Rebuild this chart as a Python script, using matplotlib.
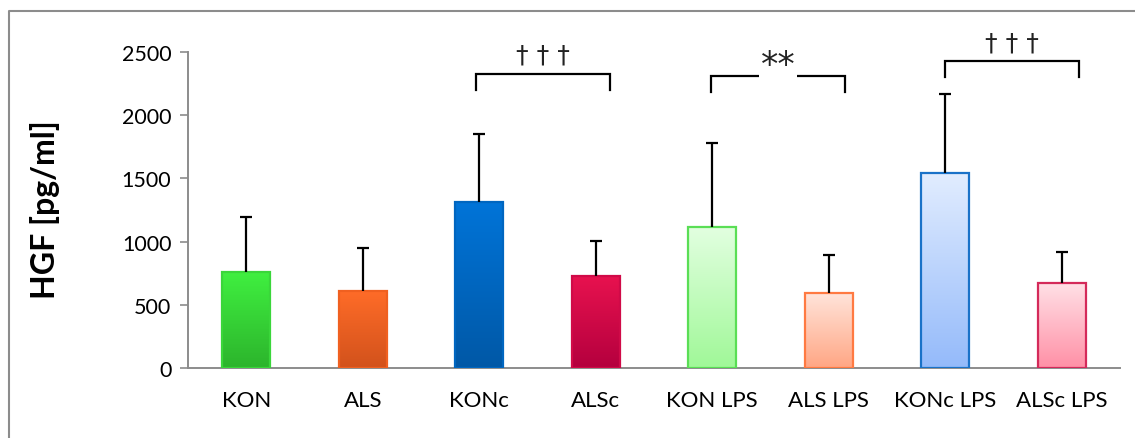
import numpy as np
import matplotlib
matplotlib.use('Agg')
import matplotlib.pyplot as plt
from matplotlib.colors import LinearSegmentedColormap
from matplotlib.lines import Line2D

plt.rcParams['font.family'] = ['Lato', 'DejaVu Sans']

groups = ['KON', 'ALS', 'KONc', 'ALSc', 'KON LPS', 'ALS LPS', 'KONc LPS', 'ALSc LPS']
hgf_mean = [762, 611, 1310, 730, 1113, 591, 1545, 672]
hgf_sd = [433, 341, 541, 275, 665, 303, 620, 243]

# (top colour, bottom colour, edge colour)
fills = [
    ('#40f040', '#2cb42c', '#3ad63a'),
    ('#ff6c28', '#d2521c', '#f06020'),
    ('#0074d8', '#0058a6', '#0066c0'),
    ('#e8124f', '#b4003e', '#d00a48'),
    ('#e2ffe0', '#a0f898', '#5ade55'),
    ('#ffe4da', '#ffa684', '#ff7a42'),
    ('#e2edff', '#94bafa', '#1a72c8'),
    ('#ffe0e6', '#ff90a6', '#d42a5a'),
]

# significance brackets: (x0, x1, line y, leg bottom y, text, text y, size, gap)
brackets = [
    (1.97, 3.12, 2326, 2199, '\u2020 \u2020 \u2020', 2480, 18, False),
    (3.99, 5.14, 2310, 2184, '**', 2395, 25, True),
    (6.00, 7.15, 2429, 2302, '\u2020 \u2020 \u2020', 2575, 18, True),
]

fig = plt.figure(figsize=(11.35, 4.39), dpi=100)
ax = fig.add_axes([188 / 1135, 70 / 439, 932 / 1135, 316 / 439])

x = np.arange(len(groups))
width = 0.41
bars = ax.bar(x, hgf_mean, width=width, color='none', zorder=2)

grad = np.linspace(0, 1, 256).reshape(-1, 1)
for b, (top, bot, edge) in zip(bars, fills):
    x0, h = b.get_x(), b.get_height()
    cmap = LinearSegmentedColormap.from_list('g', [bot, top])
    # soft shadow behind the bar
    ax.add_patch(plt.Rectangle((x0 + 0.01, 0), width, h + 6, color='#e0e0e0',
                               zorder=1, lw=0))
    im = ax.imshow(grad, extent=(x0, x0 + width, 0, h), origin='lower',
                   cmap=cmap, aspect='auto', zorder=2)
    im.set_clip_path(b)
    ax.add_patch(plt.Rectangle((x0, 0), width, h, fill=False, edgecolor=edge,
                               lw=1.6, zorder=3))

eb = ax.errorbar(x, hgf_mean, yerr=[np.zeros(len(x)), hgf_sd], fmt='none',
                 ecolor='black', elinewidth=1.6, capsize=4.5, capthick=1.6, zorder=4)
# only the upper caps are drawn
eb[1][0].set_visible(False)

for x0, x1, yl, yb, txt, yt, fs, gap in brackets:
    ax.plot([x0, x0, x1, x1], [yb, yl, yl, yb], color='black', lw=1.6,
            clip_on=False, zorder=5, solid_joinstyle='miter')
    kw = dict(bbox=dict(facecolor='white', edgecolor='none', pad=1)) if gap else {}
    ax.text((x0 + x1) / 2, yt, txt, ha='center', va='center', fontsize=fs,
            family=['DejaVu Sans'], color='#222222', clip_on=False, zorder=6, **kw)

ax.set_xlim(-0.5, 7.5)
ax.set_ylim(0, 2500)
ax.set_yticks(range(0, 2501, 500))
ax.set_xticks(x)
ax.set_xticklabels(groups, fontsize=16)
ax.tick_params(axis='x', length=0, pad=16)
ax.tick_params(axis='y', length=6, width=1.2, color='#8c8c8c', labelsize=15.5, pad=6)
for s in ['top', 'right']:
    ax.spines[s].set_visible(False)
for s in ['left', 'bottom']:
    ax.spines[s].set_color('#8c8c8c')
    ax.spines[s].set_linewidth(1.4)

fig.text(45 / 1135, 1 - 210 / 439, 'HGF [pg/ml]', rotation=90, fontsize=23,
         fontweight='bold', ha='center', va='center')

# chart frame (top and left edges)
fig.add_artist(Line2D([9 / 1135, 9 / 1135, 1], [0, 1 - 12 / 439, 1 - 12 / 439],
                      transform=fig.transFigure, color='#8c8c8c', lw=1.5))

fig.savefig('out.png', dpi=100, facecolor='white')
